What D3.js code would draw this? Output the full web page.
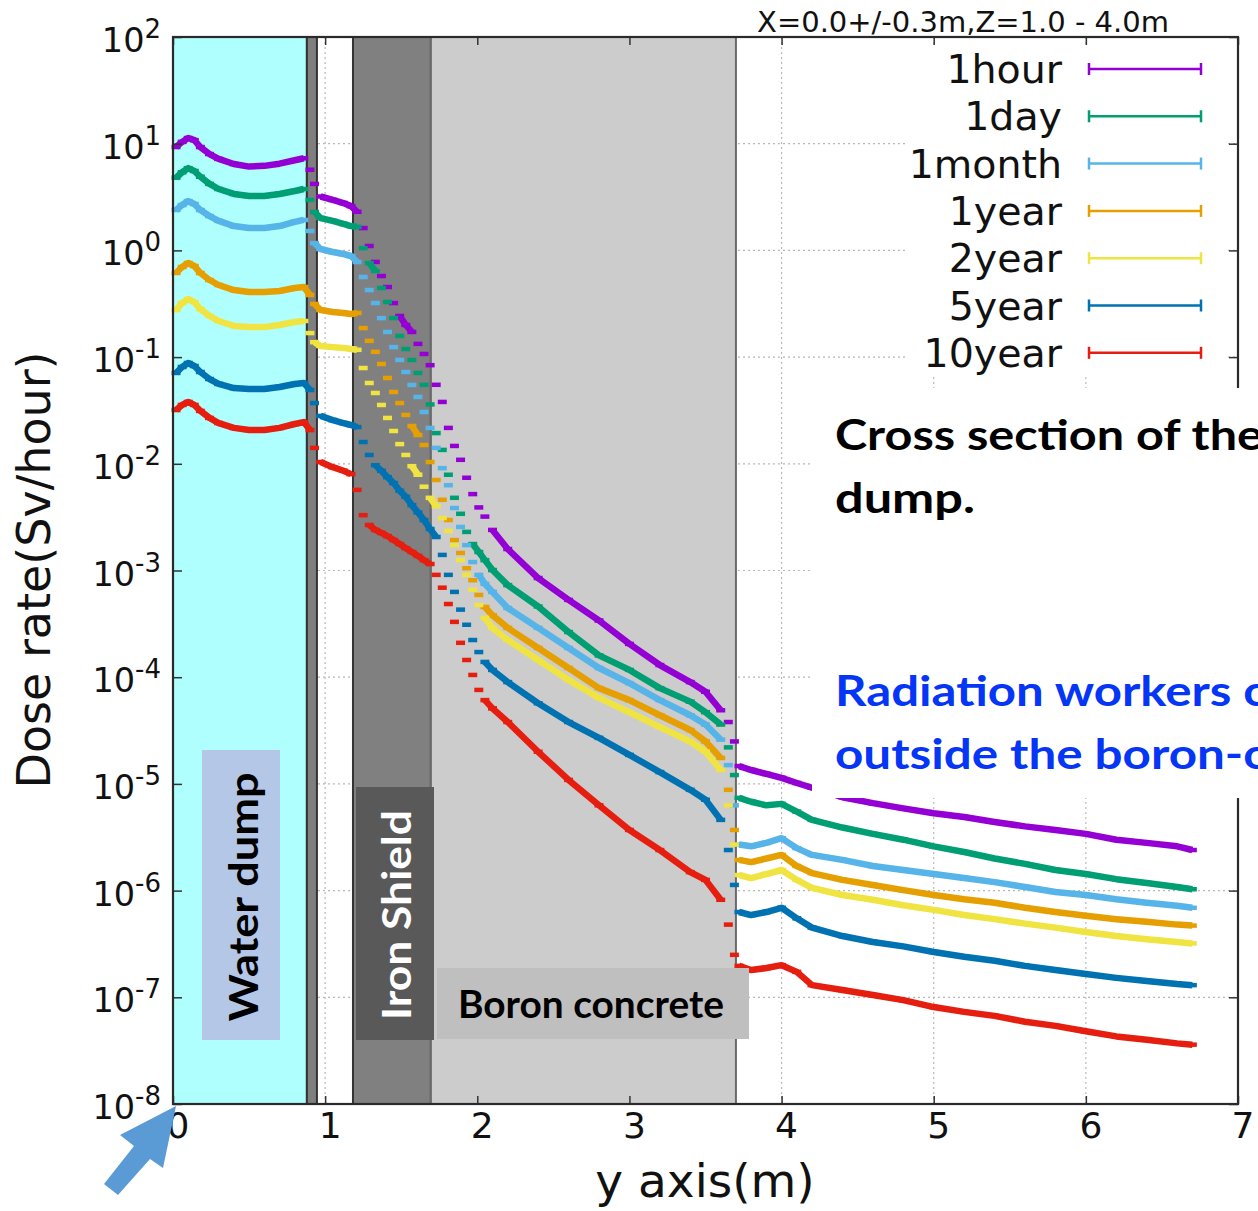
<!DOCTYPE html>
<html>
<head>
<meta charset="utf-8">
<script src="https://cdn.jsdelivr.net/npm/d3@7"></script>
<style>
body{margin:0;background:#fff;}
svg{display:block;}
</style>
</head>
<body>
<div id="chart"></div>
<script>
// bin centres along the y axis (m)
var ypos = [0.02,0.06,0.10,0.14,0.18,0.24,0.30,0.40,0.50,0.60,0.70,0.80,0.86,
  0.90,0.93,
  0.97,1.05,1.12,1.17,
  1.21,1.25,1.29,1.33,1.37,1.41,1.45,1.49,1.53,1.57,1.61,1.65,1.69,
  1.73,1.77,1.81,1.85,1.89,1.93,1.97,2.01,2.05,
  2.1,2.2,2.4,2.6,2.8,3.0,3.2,3.4,3.5,3.6,3.65,3.69,
  3.72,3.8,3.9,4.0,4.1,4.2,4.4,4.6,4.8,5.0,5.2,5.4,5.6,5.8,6.0,6.2,6.4,6.6,6.7];

// dose rate (Sv/hour) per cooling time
var dose1hour = [9.3,10.4,11.3,10.8,9.3,8.0,7.2,6.45,6.1,6.2,6.5,7.0,7.3,
  5.7,4.2,
  3.2,2.97,2.78,2.6,
  2.3,1.62,1.10,0.78,0.575,0.454,0.321,0.243,0.200,0.172,0.133,0.107,0.084,
  0.055,0.038,0.0217,0.0147,0.0109,7.4e-3,5.2e-3,3.9e-3,3.2e-3,
  2.4e-3,1.59e-3,8.5e-4,5.3e-4,3.4e-4,2.05e-4,1.3e-4,9.0e-5,7.3e-5,4.9e-5,3.8e-5,2.5e-5,
  1.47e-5,1.35e-5,1.24e-5,1.14e-5,1.02e-5,9.2e-6,7.5e-6,6.6e-6,5.9e-6,5.3e-6,4.9e-6,4.4e-6,4.0e-6,3.7e-6,3.4e-6,3.0e-6,2.8e-6,2.6e-6,2.4e-6];
var dose1day = [4.8,5.4,5.9,5.55,4.9,4.2,3.76,3.38,3.23,3.23,3.38,3.6,3.76,
  2.97,2.29,
  2.01,1.89,1.77,1.69,
  1.66,1.05,0.76,0.64,0.444,0.328,0.232,0.158,0.119,0.094,0.071,0.055,0.036,
  0.0194,0.0135,7.9e-3,4.8e-3,3.4e-3,2.3e-3,1.77e-3,1.49e-3,1.25e-3,
  1.01e-3,7.3e-4,4.6e-4,2.65e-4,1.6e-4,1.17e-4,7.9e-5,5.9e-5,4.7e-5,3.6e-5,2.2e-5,1.21e-5,
  7.4e-6,6.8e-6,6.3e-6,6.5e-6,5.5e-6,4.6e-6,3.9e-6,3.4e-6,3.0e-6,2.6e-6,2.3e-6,2.0e-6,1.78e-6,1.56e-6,1.43e-6,1.28e-6,1.18e-6,1.08e-6,1.03e-6];
var dose1month = [2.39,2.66,2.9,2.72,2.39,2.1,1.89,1.69,1.62,1.62,1.69,1.85,1.93,
  1.52,1.17,
  1.03,0.966,0.925,0.886,
  0.778,0.563,0.425,0.321,0.232,0.172,0.124,0.094,0.0725,0.0548,0.0423,0.0306,0.0217,
  0.0141,9.1e-3,6.3e-3,3.85e-3,2.56e-3,1.73e-3,1.2e-3,9.1e-4,7.5e-4,
  6.3e-4,4.45e-4,2.9e-4,1.88e-4,1.22e-4,8.8e-5,6.1e-5,4.4e-5,3.6e-5,2.6e-5,1.5e-5,6.3e-6,
  2.7e-6,2.6e-6,2.8e-6,3.1e-6,2.5e-6,2.16e-6,1.94e-6,1.7e-6,1.56e-6,1.43e-6,1.31e-6,1.2e-6,1.08e-6,9.7e-7,9.1e-7,8.3e-7,7.7e-7,7.2e-7,6.9e-7];
var dose1year = [0.614,0.699,0.762,0.714,0.614,0.528,0.474,0.425,0.407,0.407,0.416,0.444,0.454,
  0.382,0.315,
  0.276,0.265,0.259,0.253,
  0.259,0.187,0.142,0.112,0.0862,0.0637,0.0471,0.0371,0.0287,0.0226,0.0186,0.015,0.0104,
  7.05e-3,4.6e-3,2.97e-3,1.93e-3,1.46e-3,1.05e-3,8.1e-4,5.9e-4,4.55e-4,
  3.8e-4,2.9e-4,1.88e-4,1.22e-4,7.9e-5,6.1e-5,4.4e-5,3.2e-5,2.5e-5,1.75e-5,8.8e-6,3.7e-6,
  1.94e-6,1.85e-6,2.0e-6,2.16e-6,1.7e-6,1.46e-6,1.26e-6,1.13e-6,1.01e-6,9.1e-7,8.3e-7,7.7e-7,6.9e-7,6.3e-7,5.8e-7,5.4e-7,5.1e-7,4.8e-7,4.7e-7];
var dose2year = [0.276,0.321,0.35,0.328,0.282,0.243,0.218,0.196,0.191,0.191,0.2,0.213,0.218,
  0.168,0.138,
  0.127,0.124,0.122,0.119,
  0.117,0.079,0.0572,0.0461,0.0356,0.0269,0.0203,0.0153,0.0121,9.5e-3,7.9e-3,6.1e-3,4.8e-3,
  4.0e-3,3.1e-3,2.35e-3,1.73e-3,1.25e-3,9.1e-4,6.6e-4,4.75e-4,3.6e-4,
  2.9e-4,2.23e-4,1.45e-4,9.4e-5,6.4e-5,4.7e-5,3.4e-5,2.5e-5,2.0e-5,1.35e-5,6.3e-6,2.7e-6,
  1.4e-6,1.31e-6,1.43e-6,1.56e-6,1.26e-6,1.06e-6,9.1e-7,8.2e-7,7.3e-7,6.6e-7,5.9e-7,5.4e-7,4.9e-7,4.5e-7,4.1e-7,3.75e-7,3.5e-7,3.3e-7,3.2e-7];
var dose5year = [0.071,0.0808,0.0881,0.0825,0.0725,0.0623,0.056,0.0513,0.0502,0.0502,0.0525,0.056,0.0572,
  0.0492,0.0371,
  0.0281,0.0257,0.0241,0.0231,
  0.0221,0.016,0.0121,9.7e-3,8.6e-3,7.5e-3,6.6e-3,5.6e-3,4.9e-3,4.1e-3,3.5e-3,2.97e-3,2.45e-3,
  2.06e-3,1.4e-3,9.1e-4,6.3e-4,4.3e-4,3.1e-4,2.23e-4,1.72e-4,1.39e-4,
  1.17e-4,9.0e-5,5.7e-5,3.8e-5,2.7e-5,1.87e-5,1.29e-5,8.8e-6,7.1e-6,4.6e-6,2.4e-6,1.13e-6,
  6.3e-7,5.9e-7,6.3e-7,6.9e-7,5.5e-7,4.5e-7,3.75e-7,3.3e-7,3.0e-7,2.66e-7,2.4e-7,2.2e-7,1.97e-7,1.8e-7,1.65e-7,1.52e-7,1.42e-7,1.33e-7,1.3e-7];
var dose10year = [0.0319,0.0356,0.038,0.0356,0.0313,0.0269,0.0241,0.0217,0.0207,0.0207,0.0217,0.0236,0.0246,
  0.0207,0.0141,
  0.0104,9.3e-3,8.6e-3,8.0e-3,
  5.7e-3,3.3e-3,2.67e-3,2.4e-3,2.25e-3,2.1e-3,1.93e-3,1.77e-3,1.62e-3,1.49e-3,1.37e-3,1.25e-3,1.15e-3,
  9.1e-4,6.9e-4,4.85e-4,3.3e-4,2.1e-4,1.45e-4,1.05e-4,7.6e-5,6.1e-5,
  5.1e-5,3.8e-5,2.0e-5,1.09e-5,6.3e-6,3.7e-6,2.4e-6,1.49e-6,1.26e-6,8.2e-7,4.8e-7,2.5e-7,
  1.97e-7,1.8e-7,1.88e-7,2.0e-7,1.73e-7,1.3e-7,1.17e-7,1.05e-7,9.4e-8,8.1e-8,7.3e-8,6.7e-8,5.9e-8,5.4e-8,4.8e-8,4.3e-8,4.0e-8,3.7e-8,3.6e-8];

var seriesNames = ["1hour","1day","1month","1year","2year","5year","10year"];
var seriesValues = [dose1hour,dose1day,dose1month,dose1year,dose2year,dose5year,dose10year];
var seriesColors = ["#9400d3","#009e73","#56b4e9","#e69f00","#f0e442","#0072b2","#e51e10"];

var xTicks = [0,1,2,3,4,5,6,7];
var yTickExp = [2,1,0,-1,-2,-3,-4,-5,-6,-7,-8];

// material layers (m)
var layerStart = [0, 0.88, 1.183, 1.695];
var layerEnd = [0.88, 0.946, 1.695, 3.70];
var layerFill = ["#b0ffff","#7f7f7f","#808080","#cccccc"];

//---------------------------------------------------------------------
var W = 1258, H = 1211;
var svg = d3.select("#chart").append("svg").attr("width", W).attr("height", H);
svg.append("rect").attr("width", W).attr("height", H).attr("fill", "#fff");

var x = d3.scaleLinear().domain([0, 7]).range([173, 1238]);
var y = d3.scaleLog().domain([1e-8, 1e2]).range([1104, 37]);
var tickFont = "DejaVu Sans";

// grid
var grid = svg.append("g").attr("stroke", "#b8b8b8").attr("stroke-width", 1.2).attr("stroke-dasharray", "2,3");
xTicks.slice(1, -1).forEach(function(t){
    grid.append("line").attr("x1", x(t)).attr("x2", x(t)).attr("y1", 37).attr("y2", 1104);
});
yTickExp.slice(1, -1).forEach(function(e){
    grid.append("line").attr("x1", 173).attr("x2", 1238).attr("y1", y(Math.pow(10, e))).attr("y2", y(Math.pow(10, e)));
});

// material layers
svg.append("g").selectAll("rect").data(layerStart).enter().append("rect")
    .attr("x", function(d){ return x(d); })
    .attr("y", 37)
    .attr("width", function(d, i){ return x(layerEnd[i]) - x(d); })
    .attr("height", 1104 - 37)
    .attr("fill", function(d, i){ return layerFill[i]; })
    .attr("stroke", function(d, i){ return i == 3 ? "#6a6a6a" : "#333"; })
    .attr("stroke-width", 2);

// series: error-bar dashes per bin, joined where the curve is gentle
function drawSeries(vals, color){
    var pts = ypos.map(function(m, i){ return [x(m), y(vals[i])]; });
    var runs = [], run = [pts[0]];
    for (var i = 1; i < pts.length; i++){
        var slope = Math.abs(pts[i][1] - pts[i-1][1]) / (pts[i][0] - pts[i-1][0]);
        if (slope <= 1.5) run.push(pts[i]);
        else { runs.push(run); run = [pts[i]]; }
    }
    runs.push(run);
    var g = svg.append("g");
    g.selectAll("path").data(runs.filter(function(r){ return r.length > 1; })).enter().append("path")
        .attr("d", d3.line())
        .attr("fill", "none").attr("stroke", color).attr("stroke-width", 6.5)
        .attr("stroke-linejoin", "round");
    g.selectAll("line").data(pts).enter().append("line")
        .attr("x1", function(p){ return p[0] - 4.5; })
        .attr("x2", function(p){ return p[0] + 4.5; })
        .attr("y1", function(p){ return p[1]; })
        .attr("y2", function(p){ return p[1]; })
        .attr("stroke", color).attr("stroke-width", 4.5);
}
seriesValues.forEach(function(v, i){ drawSeries(v, seriesColors[i]); });

// legend
var legend = svg.append("g");
legend.append("rect").attr("x", 906).attr("y", 46).attr("width", 322).attr("height", 331).attr("fill", "#fff");
seriesNames.forEach(function(name, i){
    var ly = 69 + i * 47.3;
    legend.append("text").attr("x", 1062).attr("y", ly + 14)
        .attr("text-anchor", "end").attr("font-family", tickFont).attr("font-size", 39.5)
        .attr("fill", "#111").text(name);
    var c = seriesColors[i];
    legend.append("line").attr("x1", 1089).attr("x2", 1201).attr("y1", ly).attr("y2", ly)
        .attr("stroke", c).attr("stroke-width", 2.5);
    [1089, 1201].forEach(function(ex){
        legend.append("line").attr("x1", ex).attr("x2", ex).attr("y1", ly - 6).attr("y2", ly + 6)
            .attr("stroke", c).attr("stroke-width", 2.5);
    });
});

// ticks (inward) and frame
function noDomain(g){ g.select(".domain").remove(); g.selectAll(".tick line").attr("stroke", "#333").attr("stroke-width", 1.5); }
svg.append("g").attr("transform", "translate(0,1104)")
    .call(d3.axisBottom(x).tickValues(xTicks).tickSize(-8).tickFormat("")).call(noDomain);
svg.append("g").attr("transform", "translate(0,37)")
    .call(d3.axisTop(x).tickValues(xTicks).tickSize(-8).tickFormat("")).call(noDomain);
var yTickVals = yTickExp.map(function(e){ return Math.pow(10, e); });
svg.append("g").attr("transform", "translate(173,0)")
    .call(d3.axisLeft(y).tickValues(yTickVals).tickSize(-9).tickFormat("")).call(noDomain);
svg.append("g").attr("transform", "translate(1238,0)")
    .call(d3.axisRight(y).tickValues(yTickVals).tickSize(-9).tickFormat("")).call(noDomain);
svg.append("rect").attr("x", 173).attr("y", 37).attr("width", 1238 - 173).attr("height", 1104 - 37)
    .attr("fill", "none").attr("stroke", "#2a2a2a").attr("stroke-width", 2.2);

// tick labels
yTickExp.forEach(function(e){
    var t = svg.append("text").attr("x", 161).attr("y", y(Math.pow(10, e)) + 15)
        .attr("text-anchor", "end").attr("font-family", tickFont).attr("font-size", 33.5).attr("fill", "#111");
    t.append("tspan").text("10");
    t.append("tspan").attr("dy", -14).attr("font-size", 26).text(e);
});
xTicks.forEach(function(t){
    svg.append("text").attr("x", x(t) + 5).attr("y", 1138)
        .attr("text-anchor", "middle").attr("font-family", tickFont).attr("font-size", 36)
        .attr("fill", "#111").text(t);
});

// axis titles
svg.append("text").attr("x", 705).attr("y", 1197).attr("text-anchor", "middle")
    .attr("font-family", tickFont).attr("font-size", 47).attr("fill", "#111").text("y axis(m)");
svg.append("text").attr("transform", "translate(50,570) rotate(-90)").attr("text-anchor", "middle")
    .attr("font-family", tickFont).attr("font-size", 46).attr("fill", "#111").text("Dose rate(Sv/hour)");
svg.append("text").attr("x", 963).attr("y", 32).attr("text-anchor", "middle")
    .attr("font-family", tickFont).attr("font-size", 29).attr("fill", "#111").text("X=0.0+/-0.3m,Z=1.0 - 4.0m");

// slide annotations
svg.append("rect").attr("x", 812).attr("y", 388).attr("width", W - 812).attr("height", 410).attr("fill", "#fff");
var boldFont = "Lato, 'Open Sans', sans-serif";
function note(txt, tx, ty, len, color){
    svg.append("text").attr("x", tx).attr("y", ty).attr("font-family", boldFont).attr("font-weight", "bold")
        .attr("font-size", 42).attr("fill", color)
        .attr("textLength", len).attr("lengthAdjust", "spacingAndGlyphs").text(txt);
}
note("Cross section of the", 835, 450, 428, "#000");
note("dump.", 835, 513, 140, "#000");
note("Radiation workers c", 835, 706, 432, "#0535f5");
note("outside the boron-c", 835, 769, 432, "#0535f5");

// layer labels
svg.append("rect").attr("x", 202).attr("y", 750).attr("width", 78).attr("height", 290).attr("fill", "#b4c7e7");
svg.append("text").attr("transform", "translate(258,897) rotate(-90)").attr("text-anchor", "middle")
    .attr("font-family", boldFont).attr("font-weight", "bold").attr("font-size", 41).attr("fill", "#000")
    .attr("textLength", 249).attr("lengthAdjust", "spacingAndGlyphs").text("Water dump");
svg.append("rect").attr("x", 356).attr("y", 787).attr("width", 78).attr("height", 253).attr("fill", "#595959");
svg.append("text").attr("transform", "translate(411,915) rotate(-90)").attr("text-anchor", "middle")
    .attr("font-family", boldFont).attr("font-weight", "bold").attr("font-size", 41).attr("fill", "#fff")
    .attr("textLength", 210).attr("lengthAdjust", "spacingAndGlyphs").text("Iron Shield");
svg.append("rect").attr("x", 437).attr("y", 968).attr("width", 312).attr("height", 71).attr("fill", "#bfbfbf");
svg.append("text").attr("x", 458).attr("y", 1018)
    .attr("font-family", boldFont).attr("font-weight", "bold").attr("font-size", 38).attr("fill", "#000")
    .attr("textLength", 266).attr("lengthAdjust", "spacingAndGlyphs").text("Boron concrete");

// arrow pointing at the origin
svg.append("polygon")
    .attr("points", [[176,1106],[163,1168],[150,1159],[118,1195],[104,1184],[134,1146],[120,1135]].join(" "))
    .attr("fill", "#5b9bd5");
</script>
</body>
</html>
